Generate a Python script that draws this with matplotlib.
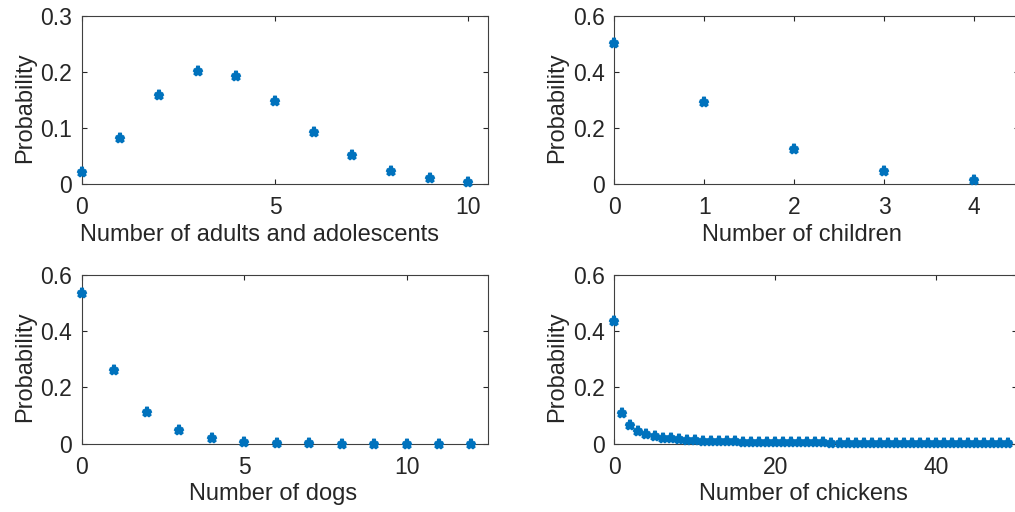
import numpy as np
import matplotlib
matplotlib.use('Agg')
import matplotlib.pyplot as plt

plt.rcParams['font.family'] = ['Liberation Sans', 'DejaVu Sans']

# Datos
adults_x = list(range(0, 11))
adults_p = [0.021, 0.083, 0.159, 0.202, 0.193, 0.148, 0.093, 0.051, 0.024, 0.010, 0.004]

children_x = list(range(0, 5))
children_p = [0.505, 0.292, 0.124, 0.045, 0.015]

dogs_x = list(range(0, 13))
dogs_p = [0.536, 0.261, 0.114, 0.049, 0.019, 0.007, 0.0036, 0.0015, 0.0006, 0.0003, 0.0001, 0.0001, 0.0]

chickens_x = list(range(0, 50))
chickens_p = [0.437, 0.109, 0.065, 0.046, 0.035, 0.027, 0.022, 0.019, 0.016, 0.014,
              0.012, 0.011, 0.010, 0.009, 0.0085, 0.008, 0.0075, 0.007, 0.0066, 0.0062,
              0.0058, 0.0055, 0.0052, 0.005, 0.0047, 0.0045, 0.0043, 0.0041, 0.0039, 0.0037,
              0.0036, 0.0034, 0.0033, 0.0032, 0.0031, 0.003, 0.0029, 0.0028, 0.0027, 0.0026,
              0.0025, 0.0024, 0.0024, 0.0023, 0.0022, 0.0022, 0.0021, 0.002, 0.002, 0.0019]

W, H = 1015, 512
fig = plt.figure(figsize=(W / 100, H / 100), dpi=100)

def add_axes(x0, y0, x1, y1):
    return fig.add_axes([x0 / W, 1 - y1 / H, (x1 - x0) / W, (y1 - y0) / H])

# (ejes, x, p, xlim, xticks, ylim, yticks, etiquetas y, xlabel, posición x del xlabel)
panels = [
    (add_axes(81.7, 16, 487.7, 184), adults_x, adults_p, (0, 10.5), [0, 5, 10],
     (0, 0.3), [0, 0.1, 0.2, 0.3], ['0', '0.1', '0.2', '0.3'], 'Number of adults and adolescents', 0.438),
    (add_axes(614.3, 16, 1019, 184), children_x, children_p, (0, 4.5), [0, 1, 2, 3, 4],
     (0, 0.6), [0, 0.2, 0.4, 0.6], ['0', '0.2', '0.4', '0.6'], 'Number of children', 0.463),
    (add_axes(81.7, 275, 487.7, 443.7), dogs_x, dogs_p, (0, 12.5), [0, 5, 10],
     (0, 0.6), [0, 0.2, 0.4, 0.6], ['0', '0.2', '0.4', '0.6'], 'Number of dogs', 0.472),
    (add_axes(614.3, 275, 1016.5, 443.7), chickens_x, chickens_p, (0, 50), [0, 20, 40],
     (0, 0.6), [0, 0.2, 0.4, 0.6], ['0', '0.2', '0.4', '0.6'], 'Number of chickens', 0.470),
]

for ax, xs, ps, xlim, xt, ylim, yt, ytl, xlabel, lx in panels:
    ax.plot(xs, ps, linestyle='none', marker='*', markersize=6.5, markeredgewidth=2.6,
            color='#0072BD', clip_on=False, zorder=3)
    ax.set_xlim(*xlim)
    ax.set_ylim(*ylim)
    ax.set_xticks(xt)
    ax.set_yticks(yt)
    ax.set_yticklabels(ytl)
    ax.set_xlabel(xlabel, fontsize=17, color='#262626', labelpad=3)
    ax.set_ylabel('Probability', fontsize=17, color='#262626', labelpad=3)
    ax.xaxis.label.set_x(lx)
    ax.yaxis.label.set_y(0.455)
    ax.tick_params(direction='in', top=True, right=True, length=3.5, width=0.8,
                   labelsize=16.5, colors='#262626')
    ax.tick_params(axis='x', pad=9)
    ax.tick_params(axis='y', pad=7)
    for s in ax.spines.values():
        s.set_color('#404040')
        s.set_linewidth(0.8)

fig.savefig('out.png', dpi=100)
